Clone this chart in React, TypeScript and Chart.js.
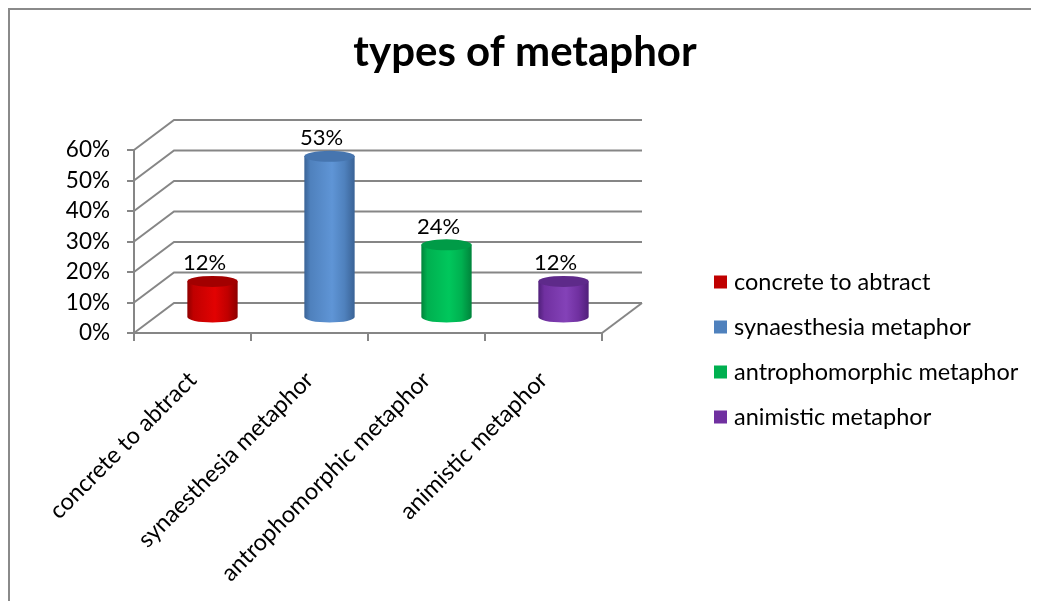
import { useEffect, useRef } from 'react';
import { Chart, registerables } from 'chart.js';

Chart.register(...registerables);

// ---- data ----
const chartTitle = 'types of metaphor';
const categories = ['concrete to abtract', 'synaesthesia metaphor', 'antrophomorphic metaphor', 'animistic metaphor'];
const values = [12, 53, 24, 12];
const yTickValues = [0, 10, 20, 30, 40, 50, 60];

// ---- styles ----
const baseColors = ['#C00000', '#4F81BD', '#00B050', '#7030A0'];
const lightColors = ['#E20202', '#5F95D6', '#00C75C', '#8442B8'];
const darkColors = ['#8E0000', '#3A6396', '#00843B', '#50207A'];
const topColors = ['#A20000', '#4675AF', '#009B47', '#5E2A8A'];

const W = 1031;
const H = 601;
const DX = 40;
const DY = -30;
const FONT = 'Lato, "Open Sans", sans-serif';
const GRID = '#868686';

const depthPlugin = {
  id: 'depth3d',
  beforeDraw(chart: any) {
    const { ctx } = chart;
    ctx.save();
    ctx.fillStyle = '#ffffff';
    ctx.fillRect(0, 0, W, H);
    ctx.fillStyle = '#8a8a8a';
    ctx.fillRect(0, 0, W, 2);
    ctx.fillRect(0, 0, 2, H);
    ctx.restore();
  },
  beforeDatasetsDraw(chart: any) {
    const { ctx, chartArea } = chart;
    const y = chart.scales.y;
    ctx.save();
    ctx.strokeStyle = GRID;
    ctx.lineWidth = 2;
    ctx.lineJoin = 'miter';
    yTickValues.forEach((v) => {
      const py = y.getPixelForValue(v);
      ctx.beginPath();
      ctx.moveTo(chartArea.left, py);
      ctx.lineTo(chartArea.left + DX, py + DY);
      ctx.lineTo(chartArea.right + DX, py + DY);
      ctx.stroke();
    });
    ctx.beginPath();
    ctx.moveTo(chartArea.right, chartArea.bottom);
    ctx.lineTo(chartArea.right + DX, chartArea.bottom + DY);
    ctx.stroke();
    ctx.restore();
  },
  afterDatasetsDraw(chart: any) {
    const { ctx } = chart;
    const meta = chart.getDatasetMeta(0);
    ctx.save();
    meta.data.forEach((el: any, i: number) => {
      const cx = el.x + DX / 2;
      const rx = el.width / 2;
      const ry = 5.5;
      const topY = el.y + DY / 2;
      const botY = el.base + DY / 2;
      const g = ctx.createLinearGradient(cx - rx, 0, cx + rx, 0);
      g.addColorStop(0, darkColors[i]);
      g.addColorStop(0.12, baseColors[i]);
      g.addColorStop(0.55, lightColors[i]);
      g.addColorStop(0.8, baseColors[i]);
      g.addColorStop(1, darkColors[i]);
      ctx.fillStyle = g;
      ctx.beginPath();
      ctx.moveTo(cx - rx, topY);
      ctx.lineTo(cx - rx, botY);
      ctx.ellipse(cx, botY, rx, ry, 0, Math.PI, 0, true);
      ctx.lineTo(cx + rx, topY);
      ctx.closePath();
      ctx.fill();
      ctx.fillStyle = topColors[i];
      ctx.beginPath();
      ctx.ellipse(cx, topY, rx, ry, 0, 0, Math.PI * 2);
      ctx.fill();
      // data label
      ctx.fillStyle = '#000000';
      ctx.font = `22px ${FONT}`;
      ctx.textAlign = 'center';
      ctx.textBaseline = 'middle';
      ctx.fillText(`${values[i]}%`, el.x + 12, topY - 18);
    });
    ctx.restore();
  },
  afterDraw(chart: any) {
    const { ctx } = chart;
    ctx.save();
    ctx.font = `23.5px ${FONT}`;
    ctx.textAlign = 'left';
    ctx.textBaseline = 'middle';
    categories.forEach((c, i) => {
      const cy = 274 + i * 45;
      ctx.fillStyle = baseColors[i];
      ctx.fillRect(706, cy - 6.5, 13, 13);
      ctx.fillStyle = '#000000';
      ctx.fillText(c, 726, cy);
    });
    ctx.restore();
  },
};

export default function App() {
  const ref = useRef<HTMLCanvasElement>(null);
  useEffect(() => {
    if (!ref.current) return;
    const chart = new Chart(ref.current, {
      type: 'bar',
      data: {
        labels: categories,
        datasets: [
          {
            label: chartTitle,
            data: values,
            backgroundColor: 'rgba(0,0,0,0)',
            borderWidth: 0,
            barPercentage: 0.43,
            categoryPercentage: 1,
          },
        ],
      },
      options: {
        responsive: false,
        animation: false,
        events: [],
        layout: { padding: { left: 3, right: 0, top: 0, bottom: 0 } },
        plugins: {
          legend: { display: false },
          tooltip: { enabled: false },
          title: {
            display: true,
            text: chartTitle,
            color: '#000000',
            font: { family: FONT, size: 42, weight: 'bold', lineHeight: 1.2 },
            padding: { top: 19, bottom: 72.6 },
          },
        },
        scales: {
          x: {
            type: 'category',
            offset: true,
            grid: {
              display: true,
              offset: true,
              drawOnChartArea: false,
              drawTicks: true,
              tickLength: 8,
              color: GRID,
              lineWidth: 2,
            },
            border: { display: true, color: GRID, width: 2 },
            ticks: {
              minRotation: 45,
              maxRotation: 45,
              autoSkip: false,
              padding: 25,
              color: '#000000',
              font: { family: FONT, size: 23.5 },
            },
            afterFit: (s: any) => {
              s.height = 276;
            },
          },
          y: {
            type: 'linear',
            min: 0,
            max: 60,
            afterBuildTicks: (s: any) => {
              s.ticks = yTickValues.map((v) => ({ value: v }));
            },
            grid: {
              display: true,
              drawOnChartArea: false,
              drawTicks: true,
              tickLength: 7,
              color: GRID,
              lineWidth: 2,
            },
            border: { display: true, color: GRID, width: 2 },
            ticks: {
              padding: 17,
              color: '#000000',
              font: { family: FONT, size: 22.5 },
              callback: (v: any) => `${v}%`,
            },
            afterFit: (s: any) => {
              s.width = 123;
            },
          },
          ySpacer: {
            type: 'linear',
            position: 'right',
            display: true,
            grid: { display: false },
            border: { display: false },
            ticks: { display: false },
            afterFit: (s: any) => {
              s.width = 437;
            },
          },
        },
      },
      plugins: [depthPlugin],
    });
    return () => chart.destroy();
  }, []);
  return (
    <div style={{ width: W, height: H, marginBottom: -8 }}>
      <canvas ref={ref} width={W} height={H} style={{ display: 'block' }} />
    </div>
  );
}
